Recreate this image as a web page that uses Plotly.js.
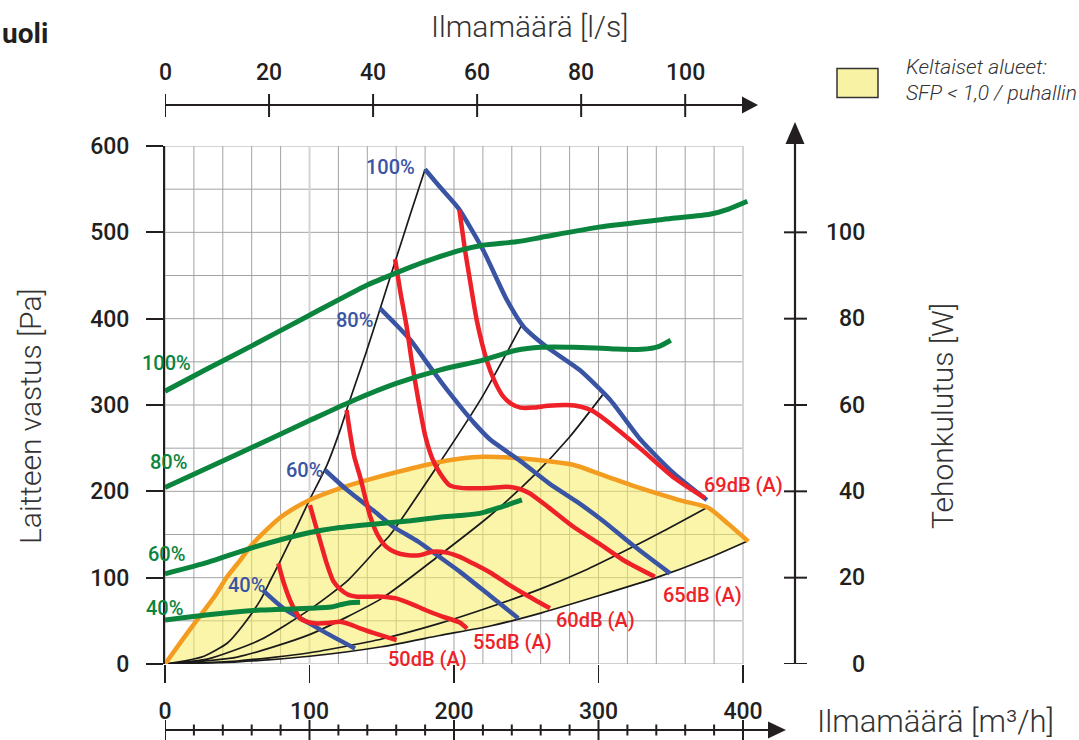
<!DOCTYPE html>
<html><head><meta charset="utf-8">
<script src="https://cdn.plot.ly/plotly-3.0.1.min.js"></script>
<style>html,body{margin:0;padding:0;background:#fff}#chart{width:1079px;height:740px}</style>
</head><body><div id="chart"></div>
<script>
// ---------- DATA ----------
// axes ticks
const mhTicks = [0, 100, 200, 300, 400];          // Ilmamäärä [m3/h]
const lsTicks = [0, 20, 40, 60, 80, 100];         // Ilmamäärä [l/s]
const paTicks = [0, 100, 200, 300, 400, 500, 600];// Laitteen vastus [Pa]
const wTicks  = [0, 20, 40, 60, 80, 100];         // Tehonkulutus [W]

// SFP < 1,0 boundary (orange) [m3/h, Pa]
const sfpX  = [0,12,24,35,43,52,59,70,80,90,100,121,144,167,190,205,220,240,260,283,306,323,340,358,376,390,403.7];
const sfpPa = [0,28,55,80,101,120,136,155,170,181,190,203.5,215,225,234,238,240,239,236,230.5,217,207,198,189,181,162,142];

// system curves (black) [m3/h, Pa]
const sys1X = [0,15,27,43,54,66,73,80,87,100,112,121,128,139,149,160,170,180];
const sys1Pa= [0,4,9,24,45,74,97,120,144,190,230,270,306,360,412,470,522,573];
const sys2X = [0,30,66,100,126,146,156,190,219,247];
const sys2Pa= [0,6,28,63,96,132,150,233,308,393];
const sys3X = [0,50,100,150,190,225,255,280,303];
const sys3Pa= [0,8,34,76,126,172,218,263,312];
const sys4X = [0,50,100,150,190,225,260,290,317,345,376];
const sys4Pa= [0,3.5,13,29,47,66,87,108,130,154,182];
const sys5X = [0,50,100,150,190,225,260,300,340,375,402.5];
const sys5Pa= [0,2.5,9,20,33,44,59,79,100,122,142];

// fan curves (blue) [m3/h, Pa]
const fan100X = [179.9,190,203,220,236.5,248,264,287,308,329,352,375];
const fan100Pa= [573,553,528,480,422,391,367.5,340.5,306,260,221,190];
const fan80X  = [148.8,160,170,183,195,205,214,225,246,266,285,303,325,349.5];
const fan80Pa = [412,393,375,345,318,297,279,260,235,209,188,166,136,105];
const fan60X  = [110.7,125,144,158,175,190,204,225,244.5];
const fan60Pa = [224.7,203,178,159,142,124,107,79,53];
const fan40X  = [68,82,98,112,131.5];
const fan40Pa = [85,64.5,49,35.5,18];

// sound level curves (red) [m3/h, Pa]
const snd69X = [203.7,207.6,211,215.7,222.6,228,234,240,246,255,265,278,288,296,310,330,352,373.7];
const snd69Pa= [526,479.5,445,398.5,352,328,310,301,297,297,299,300,298,293,276,248,216,192];
const snd65X = [159.2,163,167.2,171,175.3,180,185,190.3,197,205,213,225,236.5,245,252,265,282.6,300,317,339];
const snd65Pa= [469,430,391,348,306,265,238,221,207,204,203.5,204,205.4,203,198,182,159,140,120.5,101];
const snd60X = [125.7,128,131,135,139,142,147,153,160,167,176,185,195,204,213,225,236.5,250,266.4];
const snd60Pa= [294,268,240,217,190,171,150,136,129,126.3,126,130,129,124,116.6,106,93.5,80,64.5];
const snd55X = [100.3,104,107.3,112,116.5,121,127,133,141,150,160,170,181,192,204,209];
const snd55Pa= [184,162,143,116,96,87,80,78,78,78,76,70,62,55,48,41];
const snd50X = [78.4,82,86.5,90,93.4,98,105,113,121,128,135,148,160.3];
const snd50Pa= [116.6,95,74,62,53,49,47,47.5,49,46,41.3,34,27.8];

// power consumption (green) [m3/h, W]
const pow100X = [0,30,60,100,140,160,180,204,220,243,260,300,350,377,390,403];
const pow100W = [63.2,68.5,73.7,80.8,87.8,90.6,93.2,95.8,97,97.8,98.8,101.2,103.2,104.2,105.4,107.2];
const pow80X  = [0,50,100,130,160,190,220,243,260,283,310,330,342,350];
const pow80W  = [40.9,48.6,56.4,61,65,68.1,70.4,72.7,73.4,73.4,73,72.9,73.6,75];
const pow60X  = [0,30,59,98,121,144,170,190,204,218,232,247];
const pow60W  = [20.9,23.6,26.8,30.3,31.6,32.4,33.2,34,34.4,34.9,36.3,38];
const pow40X  = [0,30,66,100,115,121,128,135];
const pow40W  = [10.2,11.4,12.5,12.9,13.2,13.7,14.2,14.3];

// labels
const fanLabels   = ['100%','80%','60%','40%'];
const powLabels   = ['100%','80%','60%','40%'];
const soundLabels = ['50dB (A)','55dB (A)','60dB (A)','65dB (A)','69dB (A)'];

// ---------- STYLE / LAYOUT ----------
const W = 1079, H = 740;
const px = v => v / W, py = v => 1 - v / H;
const FONT = "Roboto, 'DejaVu Sans', sans-serif";
const INK = '#231f20';
const BLUE = '#3a54a4', GREEN = '#0b843e', RED = '#ee2128', ORANGE = '#f39c1f', BLK = '#1a1a1a';
const MH_PER_LS = 3.6;

function line(x, y, color, width, yaxis) {
  return {x: x, y: y, type: 'scatter', mode: 'lines', yaxis: yaxis || 'y', hoverinfo: 'skip',
          line: {color: color, width: width, shape: 'spline', smoothing: 0.6}};
}

const traces = [];
// yellow SFP area: orange boundary then back along lowest system curve
traces.push({x: sfpX.concat(sys5X.slice().reverse()), y: sfpPa.concat(sys5Pa.slice().reverse()),
  type: 'scatter', mode: 'lines', fill: 'toself', fillcolor: 'rgba(247,236,100,0.55)',
  line: {width: 0}, hoverinfo: 'skip'});
[[sys1X,sys1Pa],[sys2X,sys2Pa],[sys3X,sys3Pa],[sys4X,sys4Pa],[sys5X,sys5Pa]].forEach(s => traces.push(line(s[0], s[1], BLK, 1.7)));
traces.push(line(sfpX, sfpPa, ORANGE, 4.5));
[[pow100X,pow100W],[pow80X,pow80W],[pow60X,pow60W],[pow40X,pow40W]].forEach(s => traces.push(line(s[0], s[1], GREEN, 5, 'y2')));
[[fan100X,fan100Pa],[fan80X,fan80Pa],[fan60X,fan60Pa],[fan40X,fan40Pa]].forEach(s => traces.push(line(s[0], s[1], BLUE, 4.5)));
[[snd69X,snd69Pa],[snd65X,snd65Pa],[snd60X,snd60Pa],[snd55X,snd55Pa],[snd50X,snd50Pa]].forEach(s => traces.push(line(s[0], s[1], RED, 4.5)));

const shapes = [];
// grid
for (let v = 0; v <= 600; v += 50) {
  const top = v === 600;
  shapes.push({type: 'line', layer: 'below', xref: 'x', yref: 'y', x0: 0, x1: 400, y0: v, y1: v,
               line: {color: top ? '#d4d4d4' : '#a3a3a3', width: top ? 2 : 1}});
}
for (let v = 0; v <= 400; v += 20) {
  const light = (v === 100 || v === 400);
  shapes.push({type: 'line', layer: 'below', xref: 'x', yref: 'y', x0: v, x1: v, y0: 0, y1: 600,
               line: {color: light ? '#d4d4d4' : '#a3a3a3', width: light ? 2 : 1}});
}
// top l/s arrow axis
shapes.push({type: 'line', xref: 'paper', yref: 'paper', x0: px(165), x1: px(745), y0: py(105), y1: py(105), line: {color: INK, width: 2.2}});
shapes.push({type: 'path', xref: 'paper', yref: 'paper', path: `M ${px(742)} ${py(96.5)} L ${px(758)} ${py(105)} L ${px(742)} ${py(113.5)} Z`, fillcolor: INK, line: {width: 0}});
for (let v = 0; v <= 100; v += 20) {
  shapes.push({type: 'line', xref: 'x2', yref: 'paper', x0: v, x1: v, y0: py(94), y1: py(117), line: {color: INK, width: 2}});
}
// bottom m3/h arrow axis
shapes.push({type: 'line', xref: 'paper', yref: 'paper', x0: px(165), x1: px(770), y0: py(730), y1: py(730), line: {color: INK, width: 2.2}});
shapes.push({type: 'path', xref: 'paper', yref: 'paper', path: `M ${px(768)} ${py(721.5)} L ${px(786)} ${py(730)} L ${px(768)} ${py(738.5)} Z`, fillcolor: INK, line: {width: 0}});
for (let v = 0; v <= 400; v += 20) {
  const major = v % 100 === 0;
  shapes.push({type: 'line', xref: 'x', yref: 'paper', x0: v, x1: v, y0: py(major ? 720 : 724.5), y1: py(major ? 740 : 735.5), line: {color: INK, width: 2}});
}
// right W arrow axis
shapes.push({type: 'line', xref: 'paper', yref: 'paper', x0: px(795), x1: px(795), y0: py(664), y1: py(140), line: {color: INK, width: 2.2}});
shapes.push({type: 'path', xref: 'paper', yref: 'paper', path: `M ${px(785.5)} ${py(144)} L ${px(795)} ${py(122)} L ${px(804.5)} ${py(144)} Z`, fillcolor: INK, line: {width: 0}});
wTicks.forEach(v => shapes.push({type: 'line', xref: 'paper', yref: 'y2', x0: px(784), x1: px(807), y0: v, y1: v, line: {color: INK, width: 2}}));
// legend swatch
shapes.push({type: 'rect', xref: 'paper', yref: 'paper', x0: px(837), x1: px(878), y0: py(97.5), y1: py(68.5), fillcolor: '#f8f3a4', line: {color: '#333', width: 1.5}});

const ann = [];
const tickFont = {family: FONT, size: 23, color: INK, weight: 500};
lsTicks.forEach(v => ann.push({xref: 'x2', yref: 'paper', x: v, y: py(72), text: String(v), showarrow: false, font: tickFont, xanchor: 'center', yanchor: 'middle'}));
wTicks.forEach(v => ann.push({xref: 'paper', yref: 'y2', x: px(867), y: v, text: String(v), showarrow: false, font: tickFont, xanchor: 'right', yanchor: 'middle'}));

const titleFont = {family: FONT, size: 30, color: '#333', weight: 300};
ann.push({xref: 'paper', yref: 'paper', x: px(529), y: py(27), text: 'Ilmamäärä [l/s]', showarrow: false, font: titleFont, xanchor: 'center', yanchor: 'middle'});
ann.push({xref: 'paper', yref: 'paper', x: px(30), y: py(416), text: 'Laitteen vastus [Pa]', textangle: -90, showarrow: false, font: titleFont, xanchor: 'center', yanchor: 'middle'});
ann.push({xref: 'paper', yref: 'paper', x: px(942), y: py(416), text: 'Tehonkulutus [W]', textangle: -90, showarrow: false, font: titleFont, xanchor: 'center', yanchor: 'middle'});
ann.push({xref: 'paper', yref: 'paper', x: px(815), y: py(721), text: 'Ilmamäärä [m³/h]', showarrow: false, font: {family: FONT, size: 31, color: '#333', weight: 300}, xanchor: 'left', yanchor: 'middle'});
ann.push({xref: 'paper', yref: 'paper', x: px(50), y: py(34), text: 'uoli', showarrow: false, font: {family: FONT, size: 28, color: INK, weight: 700}, xanchor: 'right', yanchor: 'middle'});
const legFont = {family: FONT, size: 21, color: '#333', weight: 300, style: 'italic'};
ann.push({xref: 'paper', yref: 'paper', x: px(904), y: py(67), text: 'Keltaiset alueet:', showarrow: false, font: legFont, xanchor: 'left', yanchor: 'middle'});
ann.push({xref: 'paper', yref: 'paper', x: px(904), y: py(93), text: 'SFP &lt; 1,0 / puhallin', showarrow: false, font: legFont, xanchor: 'left', yanchor: 'middle'});

// curve labels (pixel positions)
const lblFont = c => ({family: FONT, size: 20, color: c, weight: 500});
const fanPos = [[417,167],[375,320],[325,470],[267,585]];
fanLabels.forEach((t,i) => ann.push({xref: 'paper', yref: 'paper', x: px(fanPos[i][0]), y: py(fanPos[i][1]), text: t, showarrow: false, font: lblFont(BLUE), xanchor: 'right', yanchor: 'middle'}));
const powPos = [[166,363],[168,462],[166,554],[164,608]];
powLabels.forEach((t,i) => ann.push({xref: 'paper', yref: 'paper', x: px(powPos[i][0]), y: py(powPos[i][1]), text: t, showarrow: false, font: lblFont(GREEN), xanchor: 'center', yanchor: 'middle'}));
const sndPos = [[386,659],[471,642],[554,620],[661,595],[702,485]];
soundLabels.forEach((t,i) => ann.push({xref: 'paper', yref: 'paper', x: px(sndPos[i][0]), y: py(sndPos[i][1]), text: t, showarrow: false, font: lblFont(RED), xanchor: 'left', yanchor: 'middle'}));

const xDom = [px(165), px(165 + 405 * 1.445)];
const yDom = [py(664), py(146)];
const layout = {
  width: W, height: H, margin: {l: 0, r: 0, t: 0, b: 0},
  paper_bgcolor: '#fff', plot_bgcolor: 'rgba(0,0,0,0)', showlegend: false,
  font: {family: FONT, color: INK},
  xaxis: {domain: xDom, range: [0, 405], anchor: 'y', showgrid: false, zeroline: false, showline: false,
          tickmode: 'array', tickvals: mhTicks, ticks: 'outside', ticklen: 18, tickwidth: 1.5, tickcolor: INK,
          tickfont: tickFont, ticklabelstandoff: 8, fixedrange: true},
  xaxis2: {domain: xDom, overlaying: 'x', range: [0, 405 / MH_PER_LS], anchor: 'y', showgrid: false, zeroline: false,
           showline: false, showticklabels: false, ticks: '', fixedrange: true},
  yaxis: {domain: yDom, range: [0, 600], anchor: 'x', showgrid: false, zeroline: false, showline: true, linecolor: INK, linewidth: 2,
          tickmode: 'array', tickvals: paTicks, ticks: 'outside', ticklen: 17, tickwidth: 2, tickcolor: INK,
          tickfont: tickFont, ticklabelstandoff: 12, fixedrange: true},
  yaxis2: {domain: yDom, overlaying: 'y', range: [0, 120], anchor: 'x', side: 'right', showgrid: false, zeroline: false,
           showline: false, showticklabels: false, ticks: '', fixedrange: true},
  shapes: shapes, annotations: ann
};
Plotly.newPlot('chart', traces, layout, {staticPlot: true, displayModeBar: false});
</script></body></html>
